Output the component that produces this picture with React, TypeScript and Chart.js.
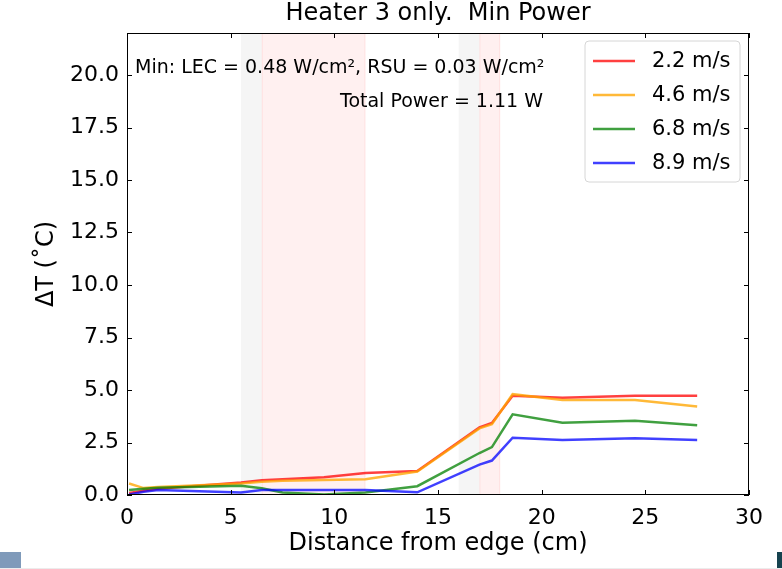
import React, { useEffect, useRef } from "react";
import { Chart, registerables } from "chart.js";
Chart.register(...registerables);

const xPositions = [0.1, 0.8, 1.5, 5.5, 6.5, 7.5, 9.5, 11.5, 14, 17, 17.6, 18.6, 21, 24.5, 27.5];
const seriesLabels = ["2.2 m/s", "4.6 m/s", "6.8 m/s", "8.9 m/s"];
const speed22 = [0.1, 0.2, 0.3, 0.6, 0.7, 0.75, 0.85, 1.05, 1.14, 3.22, 3.43, 4.73, 4.63, 4.73, 4.73];
const speed46 = [0.55, 0.33, 0.38, 0.55, 0.63, 0.68, 0.71, 0.75, 1.12, 3.17, 3.37, 4.8, 4.52, 4.52, 4.21];
const speed68 = [0.24, 0.3, 0.35, 0.44, 0.32, 0.12, 0.02, 0.12, 0.42, 2.0, 2.28, 3.84, 3.44, 3.54, 3.32];
const speed89 = [0.02, 0.15, 0.24, 0.12, 0.24, 0.24, 0.24, 0.24, 0.13, 1.45, 1.64, 2.73, 2.62, 2.7, 2.62];
const seriesColors = ["rgba(255,0,0,0.75)", "rgba(255,165,0,0.78)", "rgba(0,128,0,0.75)", "rgba(0,0,255,0.75)"];
const xTicks = [0, 5, 10, 15, 20, 25, 30];
const yTicks = [0, 2.5, 5, 7.5, 10, 12.5, 15, 17.5, 20];
const grayBands = [[5.5, 6.5], [16, 17]];
const redBands = [[6.5, 11.5], [17, 18]];
const titleText = "Heater 3 only.  Min Power";
const xLabel = "Distance from edge (cm)";
const yLabel = "ΔT (˚C)";
const note1 = "Min: LEC = 0.48 W/cm², RSU = 0.03 W/cm²";
const note2 = "Total Power = 1.11 W";

const FONT = "'DejaVu Sans', sans-serif";

const decorPlugin = {
  id: "decor",
  beforeDatasetsDraw(chart: any) {
    const { ctx, chartArea: a, scales } = chart;
    const x = scales.x;
    ctx.save();
    ctx.beginPath();
    ctx.rect(a.left, a.top, a.right - a.left, a.bottom - a.top);
    ctx.clip();
    grayBands.forEach(([s, e]) => {
      const x0 = x.getPixelForValue(s), x1 = x.getPixelForValue(e);
      ctx.fillStyle = "rgba(128,128,128,0.08)";
      ctx.fillRect(x0, a.top, x1 - x0, a.bottom - a.top);
    });
    redBands.forEach(([s, e]) => {
      const x0 = x.getPixelForValue(s), x1 = x.getPixelForValue(e);
      ctx.fillStyle = "rgba(255,0,0,0.06)";
      ctx.fillRect(x0, a.top, x1 - x0, a.bottom - a.top);
      ctx.strokeStyle = "rgba(255,0,0,0.07)";
      ctx.lineWidth = 1;
      ctx.strokeRect(x0 + 0.5, a.top, x1 - x0 - 1, a.bottom - a.top);
    });
    ctx.restore();
  },
  afterDatasetsDraw(chart: any) {
    const { ctx, chartArea: a, scales } = chart;
    const x = scales.x, y = scales.y;
    ctx.save();
    ctx.strokeStyle = "#000";
    ctx.lineWidth = 1;
    ctx.strokeRect(Math.round(a.left) + 0.5, Math.round(a.top) + 0.5, Math.round(a.right - a.left) - 1, Math.round(a.bottom - a.top) - 1);
    const tl = 5;
    ctx.beginPath();
    xTicks.forEach((v) => {
      const px = Math.round(x.getPixelForValue(v)) + 0.5;
      ctx.moveTo(px, a.bottom);
      ctx.lineTo(px, a.bottom - tl);
      ctx.moveTo(px, a.top);
      ctx.lineTo(px, a.top + tl);
    });
    yTicks.forEach((v) => {
      const py = Math.round(y.getPixelForValue(v)) + 0.5;
      ctx.moveTo(a.left, py);
      ctx.lineTo(a.left + tl, py);
      ctx.moveTo(a.right, py);
      ctx.lineTo(a.right - tl, py);
    });
    ctx.stroke();

    ctx.fillStyle = "#000";
    ctx.font = `19px ${FONT}`;
    ctx.textBaseline = "middle";
    ctx.textAlign = "left";
    ctx.fillText(note1, 135, 68);
    ctx.fillText(note2, 340, 102);

    const lx = 585, ly = 41, lw = 155, lh = 141;
    ctx.beginPath();
    const r = 4;
    ctx.moveTo(lx + r, ly);
    ctx.arcTo(lx + lw, ly, lx + lw, ly + lh, r);
    ctx.arcTo(lx + lw, ly + lh, lx, ly + lh, r);
    ctx.arcTo(lx, ly + lh, lx, ly, r);
    ctx.arcTo(lx, ly, lx + lw, ly, r);
    ctx.closePath();
    ctx.fillStyle = "rgba(255,255,255,0.8)";
    ctx.fill();
    ctx.strokeStyle = "#d6d6d6";
    ctx.lineWidth = 1;
    ctx.stroke();
    ctx.font = `21px ${FONT}`;
    seriesLabels.forEach((lab, i) => {
      const yy = 61 + i * 34;
      ctx.strokeStyle = seriesColors[i];
      ctx.lineWidth = 2.5;
      ctx.beginPath();
      ctx.moveTo(593, yy);
      ctx.lineTo(635, yy);
      ctx.stroke();
      ctx.fillStyle = "#000";
      ctx.fillText(lab, 652, yy + 1);
    });

    ctx.textAlign = "center";
    ctx.font = `24px ${FONT}`;
    const cx = (a.left + a.right) / 2;
    ctx.fillText(titleText, cx, 14);
    ctx.fillText(xLabel, cx, 544);
    ctx.save();
    ctx.translate(47, (a.top + a.bottom) / 2);
    ctx.rotate(-Math.PI / 2);
    ctx.fillText(yLabel, 0, 0);
    ctx.restore();
    ctx.restore();
  },
};

export default function App() {
  const ref = useRef<HTMLCanvasElement>(null);
  useEffect(() => {
    if (!ref.current) return;
    const all = [speed22, speed46, speed68, speed89];
    const chart = new Chart(ref.current, {
      type: "line",
      data: {
        datasets: all.map((vals, i) => ({
          label: seriesLabels[i],
          data: vals.map((v, j) => ({ x: xPositions[j], y: v })),
          borderColor: seriesColors[i],
          backgroundColor: seriesColors[i],
          borderWidth: 2.5,
          pointRadius: 0,
          tension: 0,
          fill: false,
          order: 3 - i,
        })),
      },
      options: {
        responsive: false,
        animation: false,
        devicePixelRatio: 1,
        layout: { padding: { left: 0, right: 33, top: 33, bottom: 0 } },
        plugins: {
          legend: { display: false },
          title: { display: false },
          tooltip: { enabled: false },
        },
        scales: {
          x: {
            type: "linear",
            min: 0,
            max: 30,
            grid: { display: false },
            border: { display: false },
            ticks: { color: "#000", font: { family: FONT, size: 22 }, padding: 2, maxRotation: 0 },
            afterBuildTicks: (s: any) => {
              s.ticks = xTicks.map((v) => ({ value: v }));
            },
            afterFit: (s: any) => {
              s.height = 74;
            },
          },
          y: {
            type: "linear",
            min: 0,
            max: 22,
            grid: { display: false },
            border: { display: false },
            ticks: {
              color: "#000",
              font: { family: FONT, size: 22 },
              padding: 0,
              callback: (v: any) => Number(v).toFixed(1),
            },
            afterBuildTicks: (s: any) => {
              s.ticks = yTicks.map((v) => ({ value: v }));
            },
            afterFit: (s: any) => {
              s.width = 127;
            },
          },
        },
      },
      plugins: [decorPlugin],
    });
    return () => chart.destroy();
  }, []);
  return (
    <div style={{ position: "fixed", left: 0, top: 0, width: 782, height: 569, background: "#fff", overflow: "hidden" }}>
      <canvas ref={ref} width={782} height={569} style={{ position: "absolute", left: 0, top: 0 }} />
      <div style={{ position: "absolute", left: 0, top: 552, width: 21, height: 16, background: "#7f9aba" }} />
      <div style={{ position: "absolute", left: 777, top: 552, width: 5, height: 16, background: "#16434f" }} />
      <div style={{ position: "absolute", left: 0, top: 568, width: 782, height: 1, background: "#ececec" }} />
    </div>
  );
}
